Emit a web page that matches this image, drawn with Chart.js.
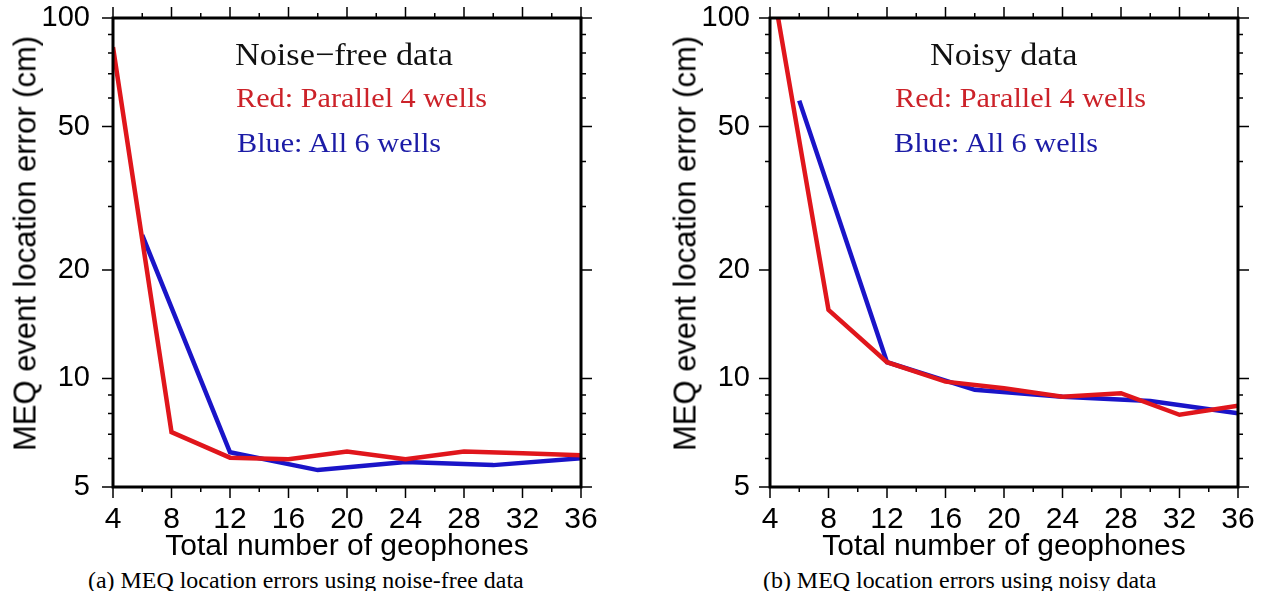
<!DOCTYPE html>
<html>
<head>
<meta charset="utf-8">
<script src="https://cdn.jsdelivr.net/npm/chart.js@4.4.1/dist/chart.umd.min.js"></script>
<style>
    body { margin: 0; background: #fff; width: 1265px; height: 591px; overflow: hidden; position: relative; }
    .panel { position: absolute; top: 0; height: 565px; }
    .note { position: absolute; font-family: "Liberation Serif", "Times New Roman", serif; line-height: 1; white-space: nowrap; transform-origin: left top; }
    .ytitle { position: absolute; width: 500px; text-align: center; font-family: "Liberation Sans", Arial, sans-serif; font-size: 31px; line-height: 1; height: 31px; transform: rotate(-90deg); color: #000; }
    .caption { position: absolute; font-family: "Liberation Serif", "Times New Roman", serif; font-size: 23px; line-height: 1; white-space: nowrap; transform-origin: left top; transform: scaleX(1.04); color: #000; }
</style>
</head>
<body>
<div class="panel" style="left:0;width:632px"><canvas id="freeChart" width="632" height="565"></canvas></div>
<div class="panel" style="left:657px;width:608px"><canvas id="noisyChart" width="608" height="565"></canvas></div>

<div class="ytitle" style="left:-225px;top:228px">MEQ event location error (cm)</div>
<div class="ytitle" style="left:435px;top:228px">MEQ event location error (cm)</div>

<div class="note" style="left:235px;top:38px;font-size:32px;color:#111;transform:scaleX(1.07)">Noise−free data</div>
<div class="note" style="left:236px;top:84px;font-size:28px;color:#cc2229;transform:scaleX(1.08)">Red: Parallel 4 wells</div>
<div class="note" style="left:237px;top:129px;font-size:28px;color:#1c1ca6;transform:scaleX(1.08)">Blue: All 6 wells</div>

<div class="note" style="left:930px;top:38px;font-size:32px;color:#111;transform:scaleX(1.07)">Noisy data</div>
<div class="note" style="left:895px;top:84px;font-size:28px;color:#cc2229;transform:scaleX(1.08)">Red: Parallel 4 wells</div>
<div class="note" style="left:894px;top:129px;font-size:28px;color:#1c1ca6;transform:scaleX(1.08)">Blue: All 6 wells</div>

<div class="caption" style="left:88px;top:569px">(a) MEQ location errors using noise-free data</div>
<div class="caption" style="left:763px;top:569px">(b) MEQ location errors using noisy data</div>

<script>
// geophone counts: 4 parallel wells -> steps of 4, all 6 wells -> steps of 6
const redGeophones = [4, 8, 12, 16, 20, 24, 28, 32, 36];
const blueGeophones = [6, 12, 18, 24, 30, 36];

// location error (cm)
const freeRed = [83, 7.1, 6.03, 5.97, 6.27, 5.97, 6.27, 6.2, 6.12];
const freeBlue = [25, 6.24, 5.57, 5.87, 5.75, 6.01];
const noisyRed = [135, 15.5, 11.1, 9.8, 9.4, 8.9, 9.1, 7.93, 8.4];
const noisyBlue = [59, 11.1, 9.3, 8.9, 8.66, 8.01];

const xTicks = [4, 8, 12, 16, 20, 24, 28, 32, 36];
const xMinorTicks = [6, 10, 14, 18, 22, 26, 30, 34];
const yTicks = [5, 10, 20, 50, 100];
const yMinorTicks = [6, 7, 8, 9, 30, 40, 60, 70, 80, 90];

const RED = "#e0161c";
const BLUE = "#1a14c8";
const sansFont = "'Liberation Sans', Arial, sans-serif";

// frame around the plot plus outward ticks on all four sides
const frameTicks = {
    id: "frameTicks",
    afterDraw(chart) {
        const { ctx, chartArea: a, scales } = chart;
        const x = scales.x;
        const y = scales.y;
        ctx.save();
        ctx.strokeStyle = "#000";
        ctx.lineWidth = 1.5;
        ctx.beginPath();
        const tickX = (v, len) => {
            const px = x.getPixelForValue(v);
            ctx.moveTo(px, a.bottom); ctx.lineTo(px, a.bottom + len);
            ctx.moveTo(px, a.top); ctx.lineTo(px, a.top - len);
        };
        const tickY = (v, len) => {
            const py = y.getPixelForValue(v);
            ctx.moveTo(a.left, py); ctx.lineTo(a.left - len, py);
            ctx.moveTo(a.right, py); ctx.lineTo(a.right + len, py);
        };
        xTicks.forEach(v => tickX(v, 11));
        xMinorTicks.forEach(v => tickX(v, 5));
        yTicks.forEach(v => tickY(v, 11));
        yMinorTicks.forEach(v => tickY(v, 5));
        ctx.stroke();
        ctx.lineWidth = 3;
        ctx.strokeRect(a.left, a.top, a.right - a.left, a.bottom - a.top);
        ctx.restore();
    }
};

function toPoints(xs, ys) {
    return xs.map((v, i) => ({ x: v, y: ys[i] }));
}

function makeChart(canvasId, redVals, blueVals, padRight, yLabelPad) {
    return new Chart(document.getElementById(canvasId).getContext("2d"), {
        type: "line",
        data: {
            datasets: [{
                label: "Red: Parallel 4 wells",
                data: toPoints(redGeophones, redVals),
                borderColor: RED,
                borderWidth: 4.5,
                pointRadius: 0,
                tension: 0,
                clip: 0
            }, {
                label: "Blue: All 6 wells",
                data: toPoints(blueGeophones, blueVals),
                borderColor: BLUE,
                borderWidth: 4.5,
                pointRadius: 0,
                tension: 0,
                clip: 0
            }]
        },
        options: {
            animation: false,
            responsive: false,
            layout: { padding: { top: 18, right: padRight, left: 0, bottom: 0 } },
            plugins: {
                legend: { display: false },
                tooltip: { enabled: false }
            },
            scales: {
                x: {
                    type: "linear",
                    min: 4,
                    max: 36,
                    afterBuildTicks: (scale) => { scale.ticks = xTicks.map(v => ({ value: v })); },
                    afterFit: (scale) => {
                        scale.height = 78;
                        scale.paddingLeft = 0;
                        scale.paddingRight = 0;
                    },
                    ticks: {
                        color: "#000",
                        font: { family: sansFont, size: 30 },
                        padding: 15,
                        maxRotation: 0,
                        autoSkip: false
                    },
                    grid: { drawOnChartArea: false, drawTicks: false, color: "rgba(0,0,0,0)" },
                    border: { display: false },
                    title: {
                        display: true,
                        text: "Total number of geophones",
                        color: "#000",
                        font: { family: sansFont, size: 30 },
                        padding: 0
                    }
                },
                y: {
                    type: "logarithmic",
                    min: 5,
                    max: 100,
                    afterBuildTicks: (scale) => { scale.ticks = yTicks.map(v => ({ value: v })); },
                    afterFit: (scale) => {
                        scale.width = 113;
                        scale.paddingTop = 0;
                        scale.paddingBottom = 0;
                    },
                    ticks: {
                        color: "#000",
                        font: { family: sansFont, size: 29 },
                        padding: yLabelPad,
                        autoSkip: false,
                        callback: (v) => String(v)
                    },
                    grid: { drawOnChartArea: false, drawTicks: false, color: "rgba(0,0,0,0)" },
                    border: { display: false }
                }
            }
        },
        plugins: [frameTicks]
    });
}

makeChart("freeChart", freeRed, freeBlue, 51, 23);
makeChart("noisyChart", noisyRed, noisyBlue, 27, 20);
</script>
</body>
</html>
